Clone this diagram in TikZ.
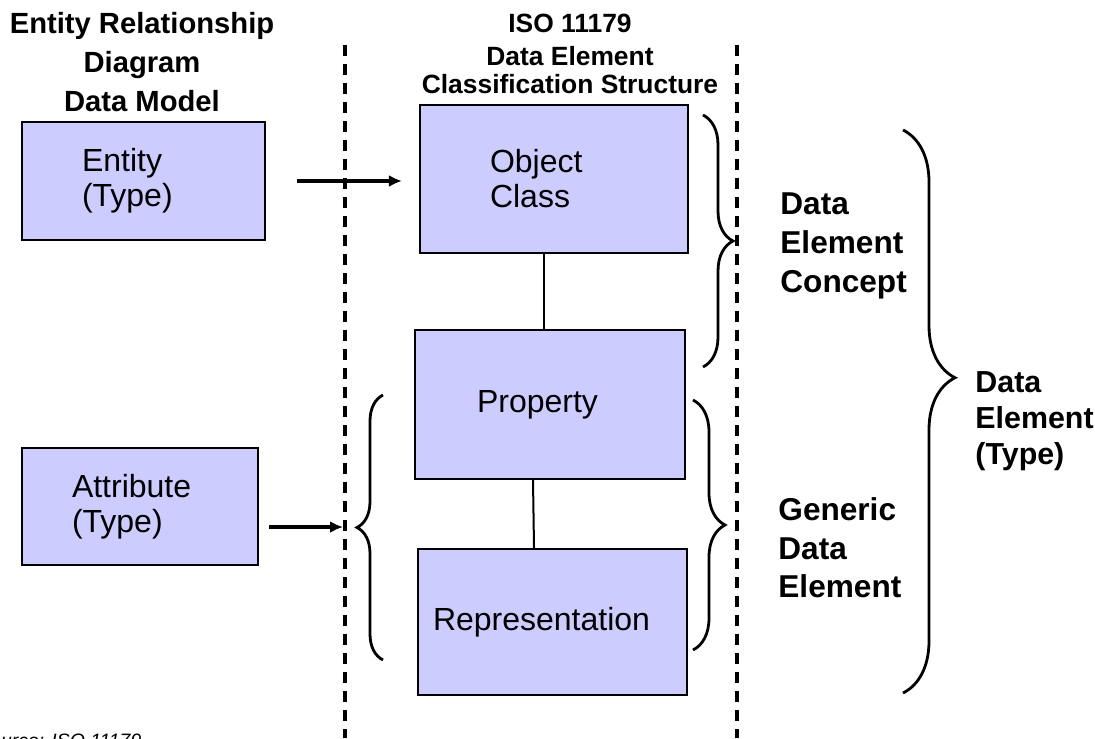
\documentclass[tikz,border=0pt]{standalone}
\usepackage{fontspec}
\setmainfont{Liberation Sans}
\usetikzlibrary{arrows.meta, decorations.pathreplacing}
\definecolor{boxfill}{RGB}{204,204,255}

\begin{document}
\begin{tikzpicture}[x=0.5pt, y=-0.5pt,
    box/.style={draw=black, line width=1.1pt, fill=boxfill, align=left,
      inner ysep=0pt, font=\fontsize{16}{17.5}\selectfont},
    title/.style={font=\bfseries\fontsize{14.6}{19.3}\selectfont, align=center, inner sep=0pt},
    tag/.style={font=\bfseries\fontsize{15.8}{19.3}\selectfont, align=left, anchor=west, inner sep=0pt},
    divider/.style={line width=1.8pt, dash pattern=on 5.5pt off 4pt},
    flow/.style={-{Latex[length=6.5pt, width=6pt]}, line width=1.6pt},
    link/.style={line width=1pt},
    curly/.style={decorate, decoration={brace, amplitude=#1}, line width=1.4pt}]
  \useasboundingbox (0,0) rectangle (1095,738);
  \clip (0,0) rectangle (1095,738);
  % Column headings
  \node[title] (ermodel) at (142,62) {Entity Relationship\\Diagram\\Data Model};
  \node[title, font=\bfseries\fontsize{13.2}{14}\selectfont] (isohead) at (570,54)
    {ISO 11179\\[2.5pt]Data Element\\Classification Structure};
  % Dashed column dividers
  \draw[divider] (345,45) -- (345,738);
  \draw[divider] (737,45) -- (737,738);
  % Data model boxes
  \node[box, text width=61.5pt, inner xsep=30pt, minimum height=59pt] (entity) at (143.5,181) {Entity\\(Type)};
  \node[box, text width=68pt, inner xsep=25pt, minimum height=58.5pt] (attribute) at (140,506.5) {Attribute\\(Type)};
  % ISO 11179 structure
  \node[box, text width=64pt, inner xsep=35pt, minimum height=74pt] (objclass) at (554,179) {Object\\Class};
  \node[box, text width=73pt, inner xsep=31pt, minimum height=74.5pt] (property) at (550,404.5) {\raisebox{-3.5pt}{Property}};
  \node[box, text width=119.5pt, inner xsep=7.5pt, minimum height=73pt] (repr) at (552.5,622) {Representation};
  \draw[link] ([xshift=-3pt]property.north) -- ([xshift=-3pt]property.north |- objclass.south);
  \draw[link] ([xshift=-8.5pt]property.south) -- ([xshift=-9.25pt]repr.north);
  % Mapping arrows
  \draw[flow, shorten <=15.5pt, shorten >=8.5pt] (entity.east) -- (entity.east -| objclass.west);
  \coordinate (attrin) at (343,527);
  \draw[flow, shorten <=5pt] (attribute.east |- attrin) -- (attrin);
  % Braces
  \draw[curly=15pt] (703,115) -- (703,367);
  \draw[curly=16pt] (693,400) -- (693,650);
  \draw[curly=13pt] (383,660) -- (383,395);
  \draw[curly=26pt, decoration={aspect=0.44}] (903,130) -- (903,693);
  % Brace labels
  \node[tag] (concept) at (780,246) {Data\\Element\\Concept};
  \node[tag] (generic) at (778,548) {Generic\\Data\\Element};
  \node[tag, font=\bfseries\fontsize{15.2}{18}\selectfont] (detype) at (975,421) {Data\\Element\\(Type)};
  % Source note
  \node[font=\itshape\fontsize{9.7}{11}\selectfont, anchor=base west, inner sep=0pt] (source) at (-23,747) {Source: ISO 11179};
\end{tikzpicture}
\end{document}
